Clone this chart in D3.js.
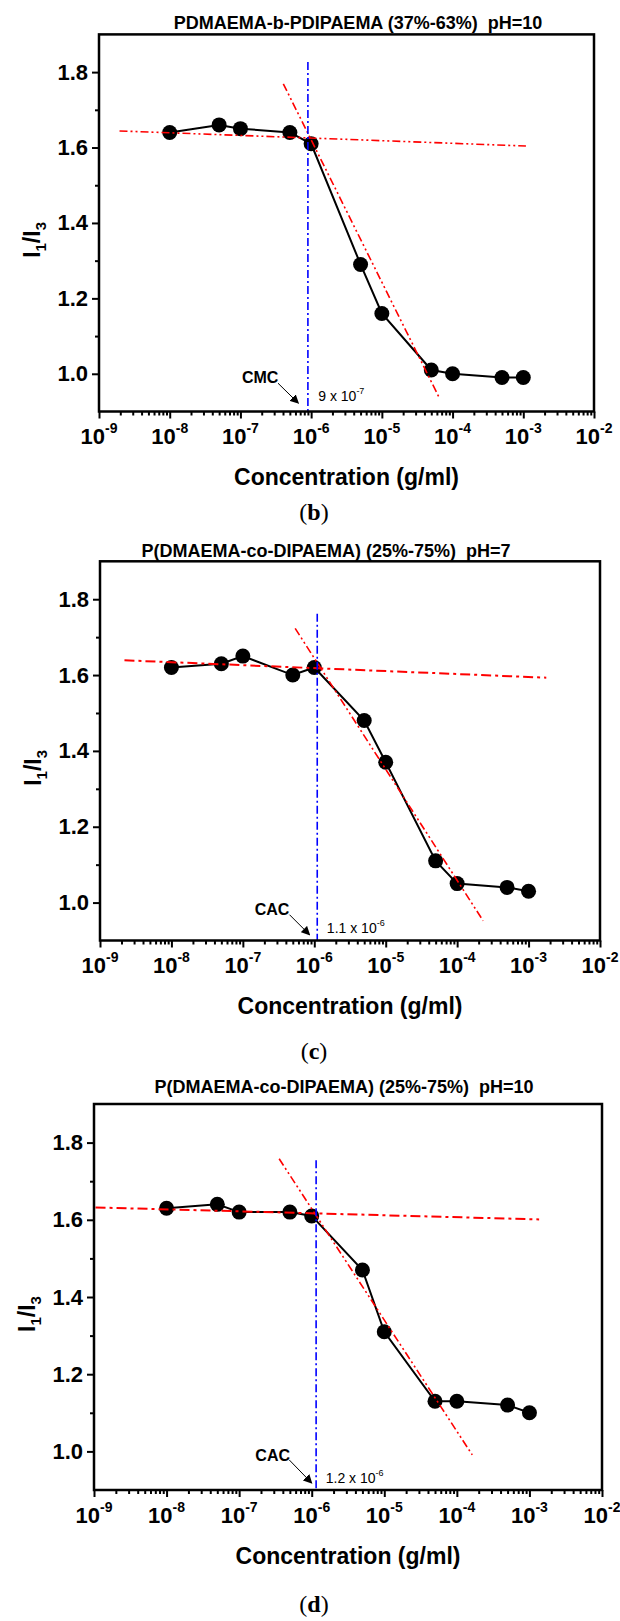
<!DOCTYPE html>
<html>
<head>
<meta charset="utf-8">
<script src="https://cdn.jsdelivr.net/npm/d3@7"></script>
<style>
  html, body { margin: 0; padding: 0; background: #fff; }
  svg { display: block; }
  text { font-family: "Liberation Sans", Arial, sans-serif; }
</style>
</head>
<body>
<div id="container"></div>
<script>
// shared x values (g/ml) and measured I1/I3 ratios per panel
const concentrations = [1e-8, 5e-8, 1e-7, 5e-7, 1e-6, 5e-6, 1e-5, 5e-5, 1e-4, 5e-4, 1e-3];
const ratioB = [1.64, 1.66, 1.65, 1.64, 1.61, 1.29, 1.16, 1.01, 1.0, 0.99, 0.99];
const ratioC = [1.62, 1.63, 1.65, 1.6, 1.62, 1.48, 1.37, 1.11, 1.05, 1.04, 1.03];
const ratioD = [1.63, 1.64, 1.62, 1.62, 1.61, 1.47, 1.31, 1.13, 1.13, 1.12, 1.1];

// red fit lines, [concentration, ratio] end points
const flatFitB = [[1.95e-9, 1.644], [1.09e-3, 1.604]];
const steepFitB = [[4.04e-7, 1.769], [6.62e-5, 0.933]];
const flatFitC = [[2.2e-9, 1.639], [1.77e-3, 1.593]];
const steepFitC = [[5.4e-7, 1.723], [2.31e-4, 0.952]];
const flatFitD = [[1.05e-9, 1.632], [1.36e-3, 1.601]];
const steepFitD = [[3.56e-7, 1.758], [1.63e-4, 0.991]];

// blue marker line: concentration, top ratio
const markB = [9e-7, 1.827];
const markC = [1.1e-6, 1.762];
const markD = [1.15e-6, 1.754];

const titles = [
  'PDMAEMA-b-PDIPAEMA (37%-63%)\u00a0\u00a0pH=10',
  'P(DMAEMA-co-DIPAEMA) (25%-75%)\u00a0\u00a0pH=7',
  'P(DMAEMA-co-DIPAEMA) (25%-75%)\u00a0\u00a0pH=10',
];
const captions = ['b', 'c', 'd'];
const markNames = ['CMC', 'CAC', 'CAC'];
const markMantissa = ['9', '1.1', '1.2'];
const markExponent = ['-7', '-6', '-6'];
// annotation anchors in data space: name label, arrow start, arrow end, value label
const nameAt = [[1.9e-7, 0.976], [2.56e-7, 0.967], [2.9e-7, 0.975]];
const arrowFrom = [[3.4e-7, 0.975], [4.5e-7, 0.968], [4.9e-7, 0.978]];
const arrowTo = [[6.6e-7, 0.922], [8.6e-7, 0.915], [1.0e-6, 0.918]];
const valueAt = [[1.26e-6, 0.928], [1.5e-6, 0.92], [1.56e-6, 0.917]];

const xTickExponents = [-9, -8, -7, -6, -5, -4, -3, -2];
const yTicks = [1.0, 1.2, 1.4, 1.6, 1.8];
const yMinorTicks = [1.1, 1.3, 1.5, 1.7];
const xDomain = [1e-9, 1e-2];
const yDomain = [0.9, 1.9];

const series = [ratioB, ratioC, ratioD];
const flatFits = [flatFitB, flatFitC, flatFitD];
const steepFits = [steepFitB, steepFitC, steepFitD];
const marks = [markB, markC, markD];

// frame boxes of the three panels, and fit line styles
const layout = [
  { left: 99, right: 594, top: 34.4, bottom: 411.5, titleX: 358, titleY: 29, capY: 520,
    flatDash: '8,3,2,3,2,3', flatWidth: 1.6 },
  { left: 100, right: 600, top: 561.3, bottom: 940.5, titleX: 326, titleY: 557, capY: 1059,
    flatDash: '10,4,3,4', flatWidth: 2 },
  { left: 94, right: 602, top: 1104, bottom: 1490, titleX: 344, titleY: 1093, capY: 1612,
    flatDash: '10,4,3,4', flatWidth: 2 },
];

const svg = d3
  .select('#container')
  .append('svg')
  .attr('width', 620)
  .attr('height', 1621);

svg.append('rect').attr('width', 620).attr('height', 1621).attr('fill', '#fff');

svg
  .append('defs')
  .append('marker')
  .attr('id', 'arrow')
  .attr('viewBox', '0 0 10 10')
  .attr('refX', 9)
  .attr('refY', 5)
  .attr('markerWidth', 9)
  .attr('markerHeight', 9)
  .attr('markerUnits', 'userSpaceOnUse')
  .attr('orient', 'auto')
  .append('path')
  .attr('d', 'M0,0L10,5L0,10z')
  .attr('fill', '#000');

const minorX = [];
for (let e = -9; e < -2; e++) {
  for (let m = 2; m <= 9; m++) minorX.push(m * Math.pow(10, e));
}

layout.forEach((p, i) => {
  const w = p.right - p.left;
  const h = p.bottom - p.top;
  const x = d3.scaleLog().domain(xDomain).range([0, w]);
  const y = d3.scaleLinear().domain(yDomain).range([h, 0]);

  svg
    .append('text')
    .attr('x', p.titleX)
    .attr('y', p.titleY)
    .attr('text-anchor', 'middle')
    .attr('font-size', 18)
    .attr('font-weight', 'bold')
    .text(titles[i]);

  const g = svg.append('g').attr('transform', 'translate(' + p.left + ',' + p.top + ')');

  // x axis: decade ticks and log minor ticks
  const xMajor = g
    .append('g')
    .attr('transform', 'translate(0,' + h + ')')
    .call(
      d3
        .axisBottom(x)
        .tickValues(xTickExponents.map(e => Math.pow(10, e)))
        .tickSize(7)
        .tickFormat(''),
    );
  const xMinor = g
    .append('g')
    .attr('transform', 'translate(0,' + h + ')')
    .call(d3.axisBottom(x).tickValues(minorX).tickSize(4).tickFormat(''));

  const yMajor = g.append('g').call(
    d3
      .axisLeft(y)
      .tickValues(yTicks)
      .tickSize(7)
      .tickPadding(4)
      .tickFormat(d3.format('.1f')),
  );
  const yMinor = g
    .append('g')
    .call(d3.axisLeft(y).tickValues(yMinorTicks).tickSize(4).tickFormat(''));

  [xMajor, xMinor, yMajor, yMinor].forEach(a => {
    a.select('.domain').remove();
    a.selectAll('line').attr('stroke-width', 2);
  });
  yMajor
    .selectAll('text')
    .attr('font-size', 22)
    .attr('font-weight', 'bold')
    .attr('font-family', '"Liberation Sans", Arial, sans-serif')
    .attr('fill', '#000');

  const xLabels = g
    .append('g')
    .selectAll('text')
    .data(xTickExponents)
    .join('text')
    .attr('x', e => x(Math.pow(10, e)))
    .attr('y', h + 33)
    .attr('text-anchor', 'middle')
    .attr('font-size', 22)
    .attr('font-weight', 'bold');
  xLabels.append('tspan').text('10');
  xLabels
    .append('tspan')
    .attr('dy', -11)
    .attr('font-size', 14)
    .text(e => e);

  g.append('text')
    .attr('x', w / 2)
    .attr('y', h + 74)
    .attr('text-anchor', 'middle')
    .attr('font-size', 23)
    .attr('font-weight', 'bold')
    .text('Concentration (g/ml)');

  const yl = g
    .append('text')
    .attr('transform', 'translate(-59,' + (h / 2 + 17) + ') rotate(-90)')
    .attr('text-anchor', 'middle')
    .attr('font-size', 23)
    .attr('font-weight', 'bold');
  yl.append('tspan').text('I');
  yl.append('tspan').attr('font-size', 15).attr('dy', 6).text('1');
  yl.append('tspan').attr('dy', -6).text('/I');
  yl.append('tspan').attr('font-size', 15).attr('dy', 6).text('3');

  // data: connecting line and markers
  const pts = concentrations.map((c, j) => [c, series[i][j]]);
  const line = d3
    .line()
    .x(d => x(d[0]))
    .y(d => y(d[1]));
  g.append('path')
    .attr('d', line(pts))
    .attr('fill', 'none')
    .attr('stroke', '#000')
    .attr('stroke-width', 2);
  g.append('g')
    .selectAll('circle')
    .data(pts)
    .join('circle')
    .attr('cx', d => x(d[0]))
    .attr('cy', d => y(d[1]))
    .attr('r', 7.5)
    .attr('fill', '#000');

  // red fits
  g.append('path')
    .attr('d', line(flatFits[i]))
    .attr('fill', 'none')
    .attr('stroke', '#ff0000')
    .attr('stroke-width', p.flatWidth)
    .attr('stroke-dasharray', p.flatDash);
  g.append('path')
    .attr('d', line(steepFits[i]))
    .attr('fill', 'none')
    .attr('stroke', '#ff0000')
    .attr('stroke-width', 1.6)
    .attr('stroke-dasharray', '8,3,2,3,2,3');

  // blue vertical at the CMC / CAC
  g.append('path')
    .attr('d', line([marks[i], [marks[i][0], yDomain[0]]]))
    .attr('fill', 'none')
    .attr('stroke', '#0000ff')
    .attr('stroke-width', 1.6)
    .attr('stroke-dasharray', '8,3,2,3');

  g.append('text')
    .attr('x', x(nameAt[i][0]))
    .attr('y', y(nameAt[i][1]))
    .attr('text-anchor', 'middle')
    .attr('font-size', 16)
    .attr('font-weight', 'bold')
    .text(markNames[i]);

  g.append('path')
    .attr('d', line([arrowFrom[i], arrowTo[i]]))
    .attr('stroke', '#000')
    .attr('stroke-width', 1)
    .attr('marker-end', 'url(#arrow)');

  const val = g
    .append('text')
    .attr('x', x(valueAt[i][0]))
    .attr('y', y(valueAt[i][1]))
    .attr('font-size', 14);
  val.append('tspan').text(markMantissa[i] + ' x 10');
  val.append('tspan').attr('dy', -7).attr('font-size', 9).text(markExponent[i]);

  g.append('rect')
    .attr('width', w)
    .attr('height', h)
    .attr('fill', 'none')
    .attr('stroke', '#000')
    .attr('stroke-width', 2.5);

  const cap = svg
    .append('text')
    .attr('x', 314)
    .attr('y', p.capY)
    .attr('text-anchor', 'middle')
    .attr('font-size', 24)
    .style('font-family', '"Liberation Serif", "Times New Roman", serif');
  cap.append('tspan').text('(');
  cap.append('tspan').attr('font-weight', 'bold').text(captions[i]);
  cap.append('tspan').text(')');
});
</script>
</body>
</html>
